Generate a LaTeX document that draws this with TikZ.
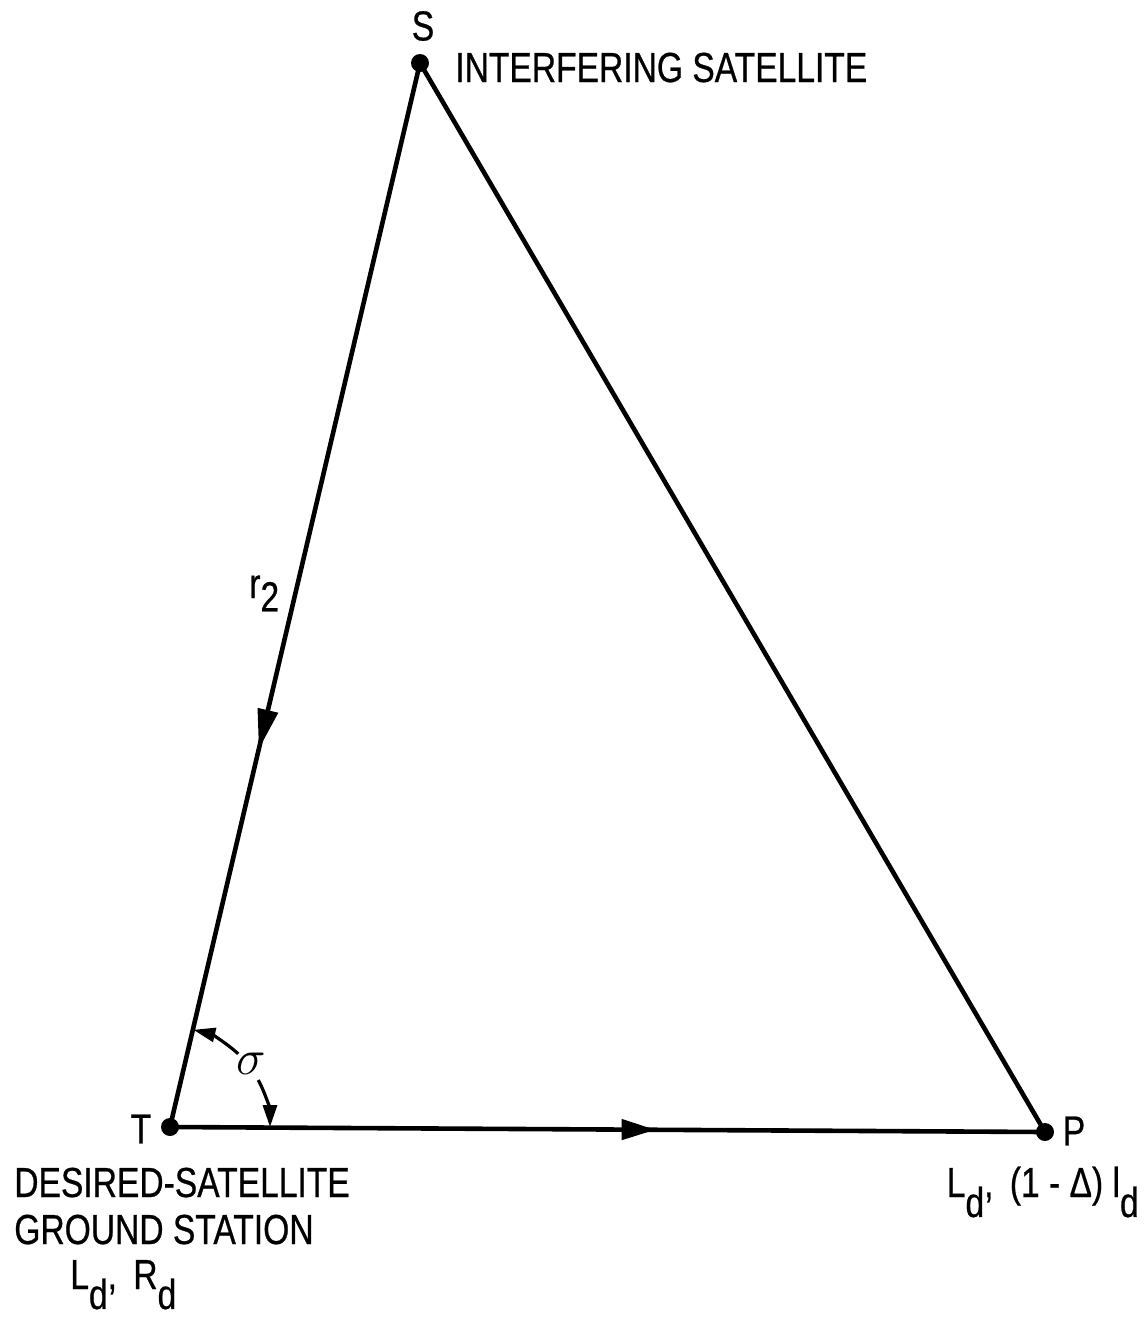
\documentclass[tikz,border=0pt]{standalone}
\usepackage{fontspec}
\setmainfont[FakeStretch=0.8,FakeBold=0.6]{Liberation Sans}
\usetikzlibrary{arrows.meta,decorations.markings,calc}
\begin{document}
\begin{tikzpicture}[x=0.5pt,y=-0.5pt,
  line width=2.3pt,
  pt/.style={circle,fill=black,inner sep=0pt,minimum size=9pt},
  lbl/.style={font=\fontsize{21}{24}\selectfont,inner sep=0pt},
  midarrow/.style 2 args={postaction={decorate},decoration={markings,
     mark=at position #1 with {\arrow{Triangle[length=#2,width=10pt]}}}},
  angarrow/.style={-{Triangle[length=11pt,width=7pt]},line width=1.6pt}
]
\useasboundingbox (0,0) rectangle (1147,1324);
\node[pt] (S) at (420,63) {};
\node[pt] (T) at (170,1127) {};
\node[pt] (P) at (1045,1132) {};
\coordinate (O) at (170,1127);

\draw[midarrow={0.645}{20pt}] (S.center) -- (T.center);
\draw[midarrow={0.555}{17pt}] (T.center) -- (P.center);
\draw (S.center) -- (P.center);

% angle sigma
\draw[angarrow] ($(O)+(-47:100)$) arc[start angle=-47,end angle=-76.5,radius=100];
\draw[angarrow] ($(O)+(-28:100)$) arc[start angle=-28,end angle=0,radius=100];
\node[font=\fontsize{24}{26}\selectfont,inner sep=0pt] (sig) at (251,1064) {$\sigma$};

\node[lbl] (Slab) at (423,26) {S};
\node[lbl,anchor=base west] (Sname) at (453,82) {INTERFERING SATELLITE};
\node[lbl] (Tlab) at (141,1129) {T};
\node[lbl] (Plab) at (1074,1131) {P};
\node[lbl] (r2) [anchor=base west] at (247,598) {r\raisebox{-0.6ex}{2}};

\node[lbl,anchor=base west] (d1) at (12,1197) {DESIRED-SATELLITE};
\node[lbl,anchor=base west] (d2) at (12,1244) {GROUND STATION};
\node[lbl,anchor=base west] (d3) at (68,1289) {L\raisebox{-0.9ex}{d},\, R\raisebox{-0.9ex}{d}};
\node[lbl,anchor=base east] (pl) at (1141,1197) {L\raisebox{-0.9ex}{d},\, (1 - Δ) l\raisebox{-0.9ex}{d}};
\end{tikzpicture}
\end{document}
